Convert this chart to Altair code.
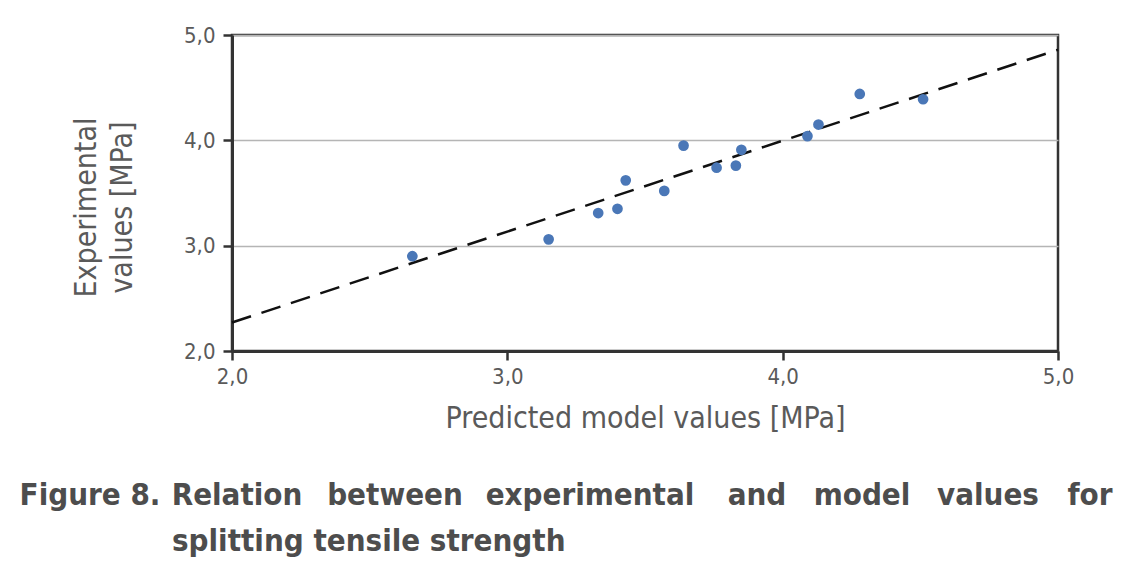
import altair as alt
import pandas as pd

predicted = [2.655, 3.15, 3.33, 3.40, 3.43, 3.57, 3.64, 3.76, 3.83, 3.85, 4.09, 4.13, 4.28, 4.51]
experimental = [2.90, 3.06, 3.31, 3.35, 3.62, 3.52, 3.95, 3.74, 3.76, 3.91, 4.04, 4.15, 4.44, 4.39]

fit_x = [2.0, 5.0]
fit_y = [2.27, 4.86]

caption_words = ["Figure 8.", "Relation", "between", "experimental", "and", "model", "values", "for"]
caption_line2 = "splitting tensile strength"

pts = pd.DataFrame({"x": predicted, "y": experimental})
fit = pd.DataFrame({"x": fit_x, "y": fit_y})

W, H = 826, 316
FONT = "DejaVu Sans Condensed, sans-serif"
label_expr = "replace(format(datum.value, '.1f'), '.', ',')"

xs = alt.Scale(domain=[2, 5], nice=False)
ys = alt.Scale(domain=[2, 5], nice=False)

xaxis = alt.Axis(values=[2, 3, 4, 5], labelExpr=label_expr, title="Predicted model values [MPa]",
                 grid=False, domainColor="#333333", domainWidth=3, tickColor="#333333", tickWidth=2.5,
                 tickSize=9, labelFontSize=22, labelColor="#5a5a5a", labelFont=FONT, labelPadding=6,
                 labelFlush=False,
                 titleFont=FONT, titleFontSize=30, titleFontWeight="normal", titleColor="#5a5a5a",
                 titlePadding=16)
yaxis = alt.Axis(values=[2, 3, 4, 5], labelExpr=label_expr, title=["Experimental", "values [MPa]"],
                 grid=True, gridColor="#b5b5b5", gridWidth=1.5,
                 domainColor="#333333", domainWidth=3, tickColor="#333333", tickWidth=2.5,
                 tickSize=9, labelFontSize=22, labelColor="#5a5a5a", labelFont=FONT, labelPadding=8,
                 labelFlush=False,
                 titleFont=FONT, titleFontSize=30, titleFontWeight="normal", titleColor="#5a5a5a",
                 titlePadding=46, titleLineHeight=36, titleY=172)

points = alt.Chart(pts).mark_circle(size=115, color="#4a77b7", opacity=1).encode(
    x=alt.X("x:Q", scale=xs, axis=xaxis),
    y=alt.Y("y:Q", scale=ys, axis=yaxis),
)

line = alt.Chart(fit).mark_line(color="#111111", strokeWidth=2.5, strokeDash=[20, 11]).encode(
    x=alt.X("x:Q", scale=xs),
    y=alt.Y("y:Q", scale=ys),
)

word_cx = [90, 237, 395, 590, 757, 862, 988, 1090]
cap_layers = []
for w, px in zip(caption_words, word_cx):
    cap_layers.append(
        alt.Chart(pd.DataFrame({"w": [w]})).mark_text(
            font=FONT, fontSize=31, fontWeight="bold", color="#4d4d4d",
            align="center", baseline="alphabetic").encode(
            x=alt.value(px - 232), y=alt.value(H + 154), text="w:N")
    )
cap_layers.append(
    alt.Chart(pd.DataFrame({"w": [caption_line2]})).mark_text(
        font=FONT, fontSize=31, fontWeight="bold", color="#4d4d4d",
        align="left", baseline="alphabetic").encode(
        x=alt.value(172 - 232), y=alt.value(H + 200), text="w:N")
)

chart = alt.layer(line, points, *cap_layers).properties(
    width=W, height=H,
    background="white",
    autosize=alt.AutoSizeParams(type="none"),
    padding={"left": 232, "top": 35, "right": 70, "bottom": 213},
).configure_view(stroke="#333333", strokeWidth=2.5)

chart.save("out.html", embed_options={"renderer": "svg", "actions": False})
